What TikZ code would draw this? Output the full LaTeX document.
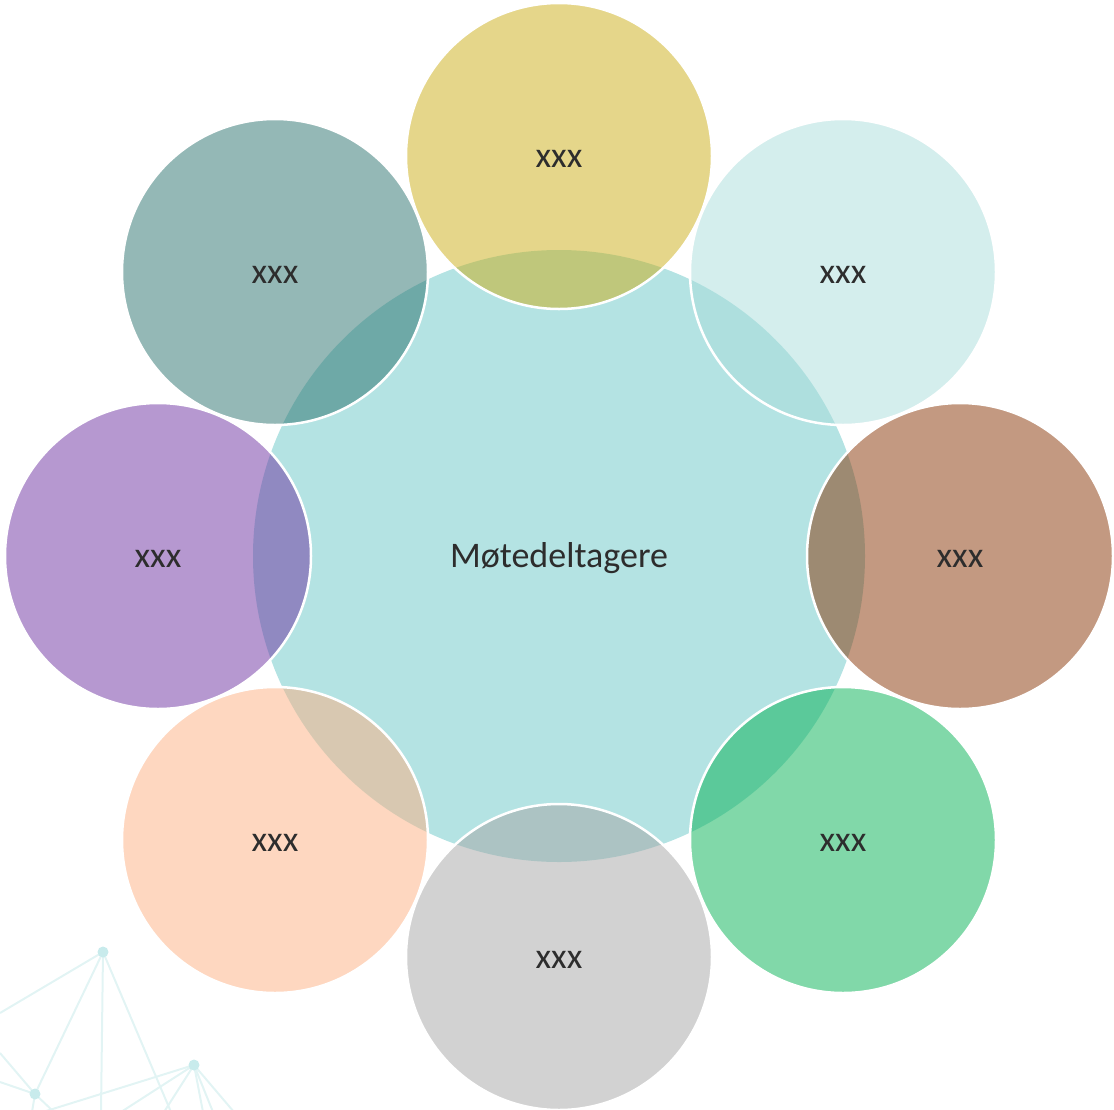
\documentclass[tikz,border=0pt]{standalone}
\usepackage{fontspec}
\setmainfont{Carlito}
\definecolor{centerfill}{RGB}{180,227,227}
\definecolor{cyellow}{RGB}{203,173,21}
\definecolor{clcyan}{RGB}{169,221,219}
\definecolor{cbrown}{RGB}{135,51,3}
\definecolor{cgreen}{RGB}{3,177,83}
\definecolor{cgray}{RGB}{165,165,165}
\definecolor{cpeach}{RGB}{253,175,129}
\definecolor{cpurple}{RGB}{109,49,161}
\definecolor{cteal}{RGB}{41,113,109}
\definecolor{txt}{RGB}{45,45,45}
\definecolor{netline}{RGB}{226,244,244}
\definecolor{netdot}{RGB}{200,235,236}
\begin{document}
\begin{tikzpicture}[x=1pt,y=-1pt,
  hub/.style={circle,minimum size=612pt,inner sep=0pt,fill=centerfill,text=txt,font=\fontsize{36}{40}\selectfont},
  petal/.style={circle,minimum size=306pt,inner sep=0pt,fill=#1,fill opacity=0.5,text opacity=1,draw=white,draw opacity=1,line width=2.5pt,text=txt,font=\fontsize{36}{40}\selectfont},
  lbl/.style={text=txt,font=\fontsize{36}{40}\selectfont,inner sep=0pt},
  netdotstyle/.style={circle,fill=netdot,minimum size=11pt,inner sep=0pt},
  netlinestyle/.style={draw=netline,line width=2pt}]
\useasboundingbox (0,0) rectangle (1114,1109);
\clip (0,0) rectangle (1114,1109);
% decorative network
\coordinate (na) at (103,952);
\coordinate (nb) at (194,1065);
\coordinate (nc) at (35,1094);
\coordinate (e1) at (0,1013);
\coordinate (e2) at (101,1112);
\coordinate (e3) at (171,1112);
\coordinate (e4) at (43,1112);
\coordinate (e5) at (121,1112);
\coordinate (e6) at (164,1112);
\coordinate (e7) at (203,1112);
\coordinate (e8) at (213,1112);
\coordinate (e9) at (234,1112);
\coordinate (e10) at (0,1053);
\coordinate (e11) at (0,1082);
\coordinate (e12) at (32,1112);
\coordinate (e13) at (54,1112);
\draw[netlinestyle] (na) -- (e1);
\draw[netlinestyle] (na) -- (nc);
\draw[netlinestyle] (na) -- (e2);
\draw[netlinestyle] (na) -- (e3);
\draw[netlinestyle] (nb) -- (e4);
\draw[netlinestyle] (nb) -- (e5);
\draw[netlinestyle] (nb) -- (e6);
\draw[netlinestyle] (nb) -- (e7);
\draw[netlinestyle] (nb) -- (e8);
\draw[netlinestyle] (nb) -- (e9);
\draw[netlinestyle] (nc) -- (e10);
\draw[netlinestyle] (nc) -- (e11);
\draw[netlinestyle] (nc) -- (e12);
\draw[netlinestyle] (nc) -- (e13);
\node[netdotstyle] (da) at (na) {};
\node[netdotstyle] (db) at (nb) {};
\node[netdotstyle] (dc) at (nc) {};
% centre
\node[hub] (c) at (559,556) {};
% petals
\node[petal=cyellow] (p1) at (559,156) {};
\node[petal=clcyan] (p2) at (843,272) {};
\node[petal=cbrown] (p3) at (960,556) {};
\node[petal=cgreen] (p4) at (843,840) {};
\node[petal=cgray] (p5) at (559,957) {};
\node[petal=cpeach] (p6) at (275,840) {};
\node[petal=cpurple] (p7) at (158,556) {};
\node[petal=cteal] (p8) at (275,272) {};
% labels
\node[lbl,yshift=-2.5pt] (tc) at (c.center) {Møtedeltagere};
\node[lbl,yshift=-2.5pt] (t1) at (p1.center) {xxx};
\node[lbl,yshift=-2.5pt] (t2) at (p2.center) {xxx};
\node[lbl,yshift=-2.5pt] (t3) at (p3.center) {xxx};
\node[lbl,yshift=-2.5pt] (t4) at (p4.center) {xxx};
\node[lbl,yshift=-2.5pt] (t5) at (p5.center) {xxx};
\node[lbl,yshift=-2.5pt] (t6) at (p6.center) {xxx};
\node[lbl,yshift=-2.5pt] (t7) at (p7.center) {xxx};
\node[lbl,yshift=-2.5pt] (t8) at (p8.center) {xxx};
\end{tikzpicture}
\end{document}
